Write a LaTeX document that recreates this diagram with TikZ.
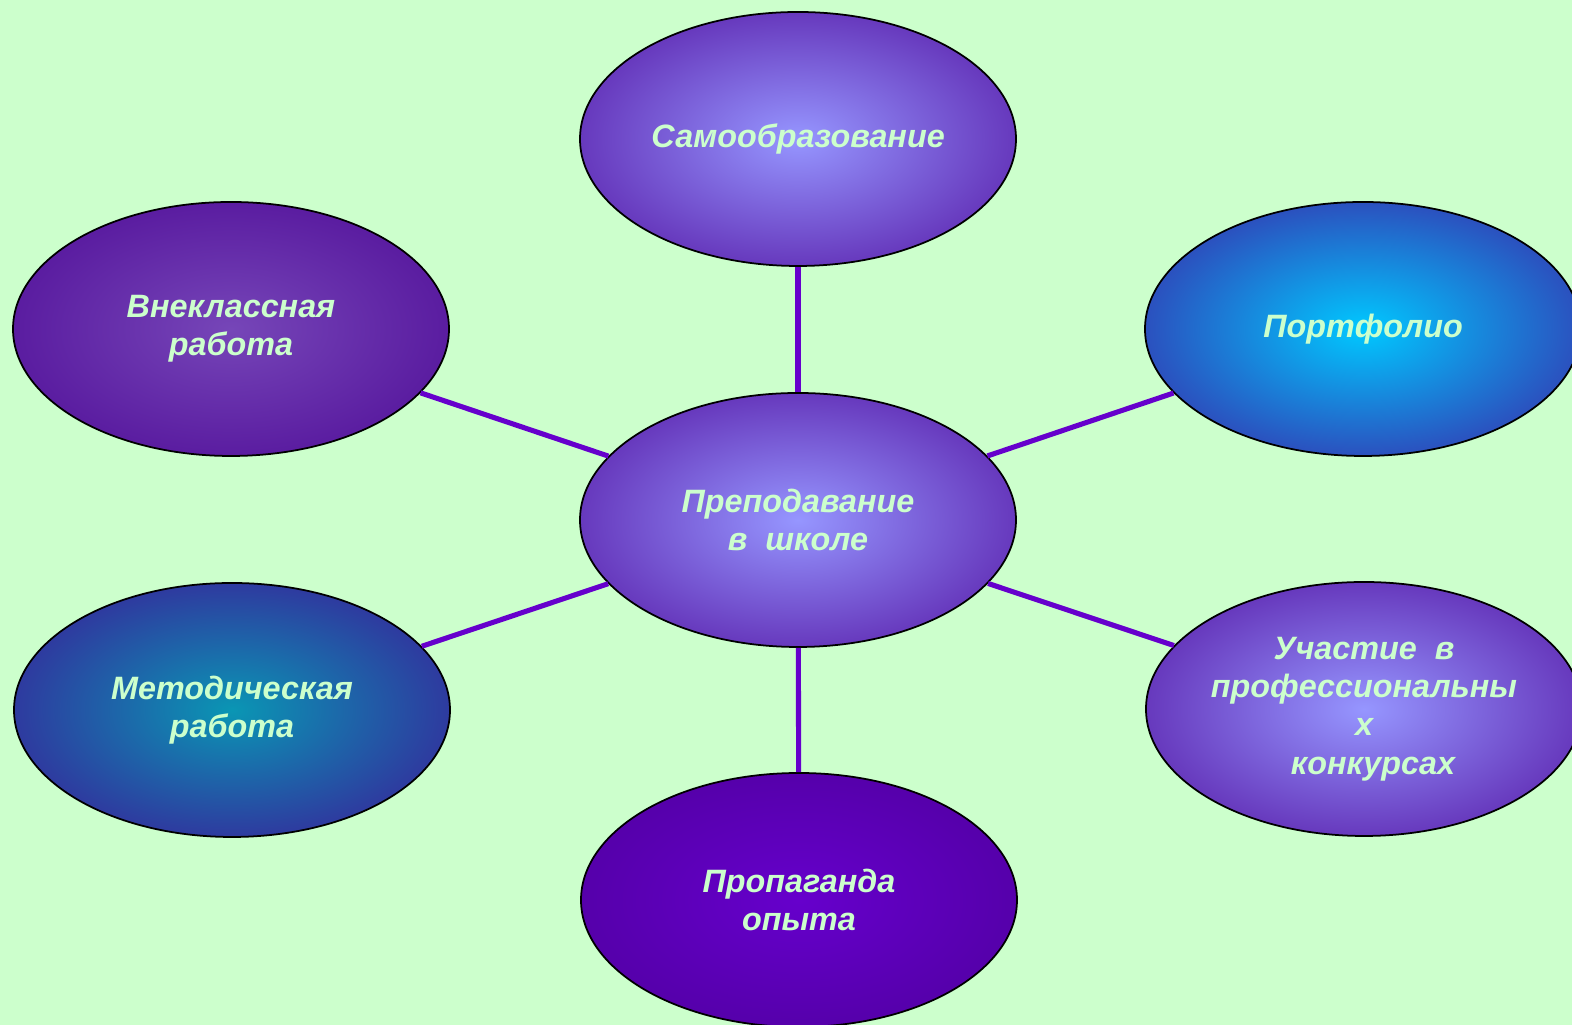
\documentclass[tikz,border=0pt]{standalone}
\usepackage{fontspec}
\setmainfont{Liberation Sans}
\usepackage{tikz}
\usetikzlibrary{shapes.geometric}

\definecolor{paper}{RGB}{204,255,204}
\definecolor{linkline}{RGB}{102,0,204}
\definecolor{bubtext}{RGB}{204,255,204}
\colorlet{bubin}{white}
\colorlet{bubout}{black}
\pgfdeclareradialshading[bubin,bubout]{bubble}{\pgfpointorigin}{color(0bp)=(bubin); color(36bp)=(bubout); color(50bp)=(bubout)}

\tikzset{
	bubble/.style 2 args = {ellipse, draw = black, line width = 0.5pt,
		minimum width = 4.36cm, minimum height = 2.54cm, inner sep = 0pt,
		/utils/exec = {\colorlet{bubin}{#1}\colorlet{bubout}{#2}},
		shading = bubble, text = bubtext, align = center,
		font = \fontsize{9.2}{10.95}\selectfont\bfseries\itshape},
	link/.style = {draw = linkline, line width = 1.45pt}
}

\begin{document}
\begin{tikzpicture}
		\fill[paper] (0,0) rectangle (15.72,10.25);
		\useasboundingbox (0,0) rectangle (15.72,10.25);
		% centre and the six topics round it
		\node[bubble = {rgb,255:red,150;green,150;blue,255}{rgb,255:red,82;green,16;blue,160}] (teach) at (7.98,5.05) {Преподавание\\в~~школе};
		\node[bubble = {rgb,255:red,150;green,150;blue,255}{rgb,255:red,82;green,16;blue,160}] (self) at (7.98,8.86) {Самообразование};
		\node[bubble = {rgb,255:red,102;green,0;blue,204}{rgb,255:red,78;green,0;blue,156}] (promo) at (7.99,1.25) {Пропаганда\\опыта};
		\node[bubble = {rgb,255:red,118;green,70;blue,184}{rgb,255:red,78;green,10;blue,150}] (extra) at (2.31,6.96) {Внеклассная\\работа};
		\node[bubble = {rgb,255:red,10;green,150;blue,180}{rgb,255:red,62;green,18;blue,150}] (method) at (2.32,3.15) {Методическая\\работа};
		\node[bubble = {rgb,255:red,0;green,200;blue,255}{rgb,255:red,62;green,28;blue,162}] (folio) at (13.63,6.96) {Портфолио};
		\node[bubble = {rgb,255:red,150;green,150;blue,255}{rgb,255:red,82;green,16;blue,160}] (contest) at (13.64,3.16) {Участие~~в\\профессиональны\\х\\~~конкурсах};
		\draw[link] (teach) -- (self);
		\draw[link] (teach) -- (promo);
		\draw[link] (teach) -- (extra);
		\draw[link] (teach) -- (method);
		\draw[link] (teach) -- (folio);
		\draw[link] (teach) -- (contest);
	\end{tikzpicture}
\end{document}
